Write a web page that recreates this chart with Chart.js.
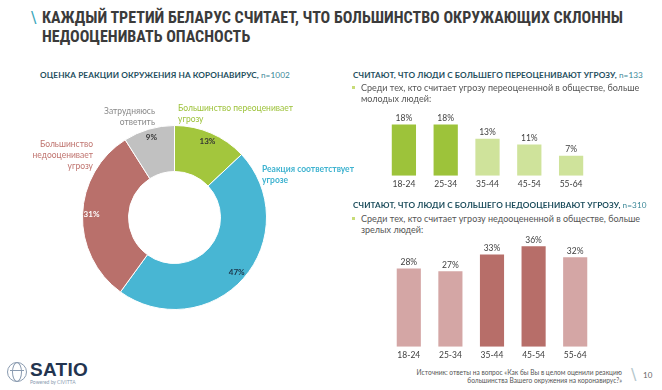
<!DOCTYPE html>
<html>
<head>
<meta charset="utf-8">
<script src="https://cdn.jsdelivr.net/npm/chart.js@4.4.1/dist/chart.umd.min.js"></script>
<style>
    body { margin: 0; width: 662px; height: 390px; background: #fff; position: relative; overflow: hidden; font-family: Lato, 'Open Sans', sans-serif; }
    .abs { position: absolute; }
    .title { left: 42px; top: 8px; font-family: 'Liberation Sans Narrow', 'Roboto Condensed', Roboto, sans-serif; font-weight: bold; font-size: 16px; line-height: 19px; color: #3b3b3b; }
    .slash { left: 31px; top: 8px; color: #3aa6ba; font-size: 16px; font-family: 'DejaVu Sans', sans-serif; }
    .sub { font-size: 8.2px; font-weight: bold; color: #1f4f5e; letter-spacing: 0.1px; }
    .sub span { font-weight: normal; color: #3a8797; }
    .bullet { font-size: 9px; color: #555; line-height: 11px; }
    .bullet:before { content: ''; position: absolute; left: -9px; top: 4px; width: 3px; height: 3px; background: #c8dc78; }
    .lbl { font-size: 8.5px; line-height: 11px; }
    .src { right: 40px; top: 368px; text-align: right; font-size: 6.6px; line-height: 8px; color: #555; }
</style>
</head>
<body>
<div class="abs slash">\</div>
<div class="abs title">КАЖДЫЙ ТРЕТИЙ БЕЛАРУС СЧИТАЕТ, ЧТО БОЛЬШИНСТВО ОКРУЖАЮЩИХ СКЛОННЫ<br>НЕДООЦЕНИВАТЬ ОПАСНОСТЬ</div>

<div class="abs sub" style="left:40px;top:70px;">ОЦЕНКА РЕАКЦИИ ОКРУЖЕНИЯ НА КОРОНАВИРУС, <span>n=1002</span></div>

<div class="abs" style="left:20px;top:95px;width:320px;height:235px;"><canvas id="donut"></canvas></div>
<div class="abs lbl" style="left:178px;top:103px;color:#9dc23a;">Большинство переоценивает<br>угрозу</div>
<div class="abs lbl" style="left:262px;top:164px;color:#3fb3d0;font-weight:bold;">Реакция соответствует<br>угрозе</div>
<div class="abs lbl" style="right:569px;top:139px;color:#c07570;text-align:right;">Большинство<br>недооценивает<br>угрозу</div>
<div class="abs lbl" style="right:507px;top:106px;color:#8a8a8a;text-align:right;">Затрудняюсь<br>ответить</div>

<div class="abs sub" style="left:353px;top:70px;">СЧИТАЮТ, ЧТО ЛЮДИ С БОЛЬШЕГО ПЕРЕОЦЕНИВАЮТ УГРОЗУ, <span>n=133</span></div>
<div class="abs bullet" style="left:361px;top:82px;">Среди тех, кто считает угрозу переоцененной в обществе, больше<br>молодых людей:</div>
<div class="abs" style="left:383px;top:105px;width:209px;height:87px;"><canvas id="over"></canvas></div>

<div class="abs sub" style="left:353px;top:200px;">СЧИТАЮТ, ЧТО ЛЮДИ С БОЛЬШЕГО НЕДООЦЕНИВАЮТ УГРОЗУ, <span>n=310</span></div>
<div class="abs bullet" style="left:361px;top:213px;">Среди тех, кто считает угрозу недооцененной в обществе, больше<br>зрелых людей:</div>
<div class="abs" style="left:388px;top:227px;width:208px;height:136px;"><canvas id="under"></canvas></div>

<!-- логотип -->
<div class="abs" style="left:7px;top:362px;width:18px;height:18px;border:1.5px solid #8a9bb0;border-radius:50%;"></div>
<div class="abs" style="left:12px;top:362px;width:8px;height:18px;border:1px solid #8a9bb0;border-radius:50%;"></div>
<div class="abs" style="left:10px;top:370px;width:14px;height:0;border-top:1px solid #8a9bb0;"></div>
<div class="abs" style="left:30px;top:359px;font-family:'Liberation Sans',sans-serif;font-weight:bold;font-size:19px;color:#23344f;letter-spacing:0.3px;">SATIO</div>
<div class="abs" style="left:30px;top:379px;font-size:5px;color:#8a9bb0;">Powered by CIVITTA</div>

<div class="abs src">Источник: ответы на вопрос «Как бы Вы в целом оценили реакцию<br>большинства Вашего окружения на коронавирус?»</div>
<div class="abs" style="left:631px;top:365px;color:#b5c7cc;font-size:16px;font-family:'DejaVu Sans',sans-serif;">\</div>
<div class="abs" style="left:643px;top:370px;color:#666;font-size:8px;">10</div>

<script>
// Данные
const donutLabels = ['Большинство переоценивает угрозу', 'Реакция соответствует угрозе', 'Большинство недооценивает угрозу', 'Затрудняюсь ответить'];
const donutValues = [13, 47, 31, 9];
const donutColors = ['#a3c63d', '#48b6d3', '#b9706b', '#c1c1c1'];
const donutTextColors = ['#333333', '#1c3549', '#ffffff', '#333333'];

const ageGroups = ['18-24', '25-34', '35-44', '45-54', '55-64'];
const overValues = [18, 18, 13, 11, 7];
const overColors = ['#9dc33a', '#9dc33a', '#cfe39b', '#cfe39b', '#cfe39b'];
const underValues = [28, 27, 33, 36, 32];
const underColors = ['#d4a6a5', '#d4a6a5', '#b76e69', '#b76e69', '#d4a6a5'];

// Подписи значений над столбцами
const barValuePlugin = {
    id: 'barValues',
    afterDatasetsDraw(chart) {
        const ctx = chart.ctx;
        const meta = chart.getDatasetMeta(0);
        ctx.save();
        ctx.font = '8.5px Lato, sans-serif';
        ctx.fillStyle = '#404040';
        ctx.textAlign = 'center';
        ctx.textBaseline = 'bottom';
        meta.data.forEach((bar, i) => {
            ctx.fillText(chart.data.datasets[0].data[i] + '%', bar.x, bar.y - 2);
        });
        ctx.restore();
    }
};

// Проценты на кольце
const donutValuePlugin = {
    id: 'donutValues',
    afterDatasetsDraw(chart) {
        const ctx = chart.ctx;
        const meta = chart.getDatasetMeta(0);
        ctx.save();
        ctx.font = 'bold 8px Lato, sans-serif';
        ctx.textAlign = 'center';
        ctx.textBaseline = 'middle';
        meta.data.forEach((arc, i) => {
            const mid = (arc.startAngle + arc.endAngle) / 2;
            const r = arc.outerRadius - 9;
            ctx.fillStyle = donutTextColors[i];
            ctx.fillText(donutValues[i] + '%', arc.x + Math.cos(mid) * r, arc.y + Math.sin(mid) * r);
        });
        ctx.restore();
    }
};

Chart.defaults.font.family = 'Lato, sans-serif';
Chart.defaults.animation = false;

new Chart(document.getElementById('donut'), {
    type: 'doughnut',
    data: {
        labels: donutLabels,
        datasets: [{
            data: donutValues,
            backgroundColor: donutColors,
            borderColor: '#ffffff',
            borderWidth: 1
        }]
    },
    options: {
        responsive: true,
        maintainAspectRatio: false,
        cutout: '50%',
        layout: { padding: { left: 62, right: 73, top: 30, bottom: 20 } },
        plugins: { legend: { display: false }, tooltip: { enabled: false } }
    },
    plugins: [donutValuePlugin]
});

function barChart(id, values, colors, max) {
    return new Chart(document.getElementById(id), {
        type: 'bar',
        data: {
            labels: ageGroups,
            datasets: [{
                data: values,
                backgroundColor: colors,
                barPercentage: 0.58,
                categoryPercentage: 1
            }]
        },
        options: {
            responsive: true,
            maintainAspectRatio: false,
            layout: { padding: { top: 8, left: 0, right: 0, bottom: 0 } },
            plugins: { legend: { display: false }, tooltip: { enabled: false } },
            scales: {
                x: {
                    grid: { display: false, drawTicks: false },
                    border: { display: false },
                    ticks: { color: '#404040', font: { size: 8.5 }, padding: 3 }
                },
                y: { display: false, min: 0, max: max }
            }
        },
        plugins: [barValuePlugin]
    });
}

barChart('over', overValues, overColors, 22);
barChart('under', underValues, underColors, 40);
</script>
</body>
</html>
